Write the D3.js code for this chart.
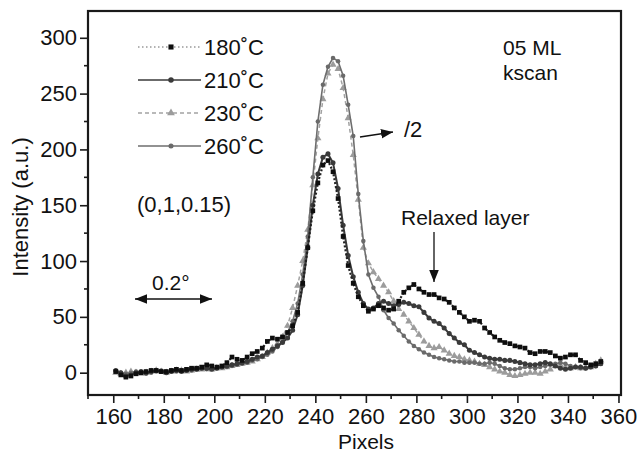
<!DOCTYPE html>
<html><head><meta charset="utf-8">
<script src="https://cdn.jsdelivr.net/npm/d3@7"></script>
<style>body{margin:0;background:#fff}svg{display:block}text{font-family:"Liberation Sans",Arial,sans-serif;fill:#111}</style>
</head><body><svg id="c" width="641" height="453"></svg>
<script>
// x positions (pixels) shared by all series
const pixels = d3.range(161, 354, 2);
const xTicks = [160,180,200,220,240,260,280,300,320,340,360];
const yTicks = [0,50,100,150,200,250,300];
// 180 C
const s180 = [1,-2,-4,-3,-1,0,1,2,2,1,
  1,2,3,2,3,4,4,5,7,6,
  5,6,9,14,12,11,14,17,19,22,
  28,31,30,32,36,42,54,80,112,145,
  170,186,190,180,156,122,96,80,68,60,
  55,57,60,58,56,57,64,72,76,79,
  75,72,70,70,67,66,63,58,54,50,
  46,47,46,40,36,32,29,27,26,24,
  23,22,18,17,19,19,18,15,13,14,
  16,16,11,9,7,8,10];
// 210 C
const s210 = [2,0,-3,-2,0,1,0,1,2,1,
  0,1,2,1,2,3,3,4,4,3,
  4,5,6,7,8,9,10,12,14,15,
  18,21,24,27,31,38,52,78,112,150,
  178,193,196,188,165,132,105,86,72,62,
  57,58,62,64,62,60,61,63,62,60,
  59,54,49,46,44,40,35,31,27,25,
  20,18,16,14,13,12,12,11,11,10,
  9,8,7,7,8,9,8,6,4,3,
  4,5,5,4,5,6,8];
// 230 C (shown divided by 2)
const s230 = [0,-1,0,1,0,-1,0,1,2,1,
  0,1,2,2,1,2,3,3,4,3,
  4,4,5,6,7,8,9,10,12,14,
  18,22,26,32,42,58,78,100,128,168,
  210,245,268,276,272,255,228,195,155,112,
  98,90,84,78,72,64,57,52,46,40,
  34,28,24,22,23,20,17,15,14,12,
  11,10,8,7,5,3,1,0,-2,-3,
  -2,-1,0,0,-1,1,3,6,7,5,
  4,5,4,5,5,8,11];
// 260 C (shown divided by 2)
const s260 = [1,0,-1,0,1,0,-1,0,1,2,
  1,2,1,2,3,2,3,4,3,4,
  4,5,5,6,7,8,9,11,12,14,
  16,19,23,28,36,46,62,88,122,175,
  225,258,274,282,279,266,240,212,160,118,
  88,76,68,56,49,44,38,33,28,24,
  21,18,16,14,13,12,11,10,10,9,
  9,9,8,8,9,8,6,4,3,3,
  4,5,5,4,5,6,7,8,9,8,
  6,5,4,4,5,6,8];
const names = ["180\u02DAC","210\u02DAC","230\u02DAC","260\u02DAC"];

const svg = d3.select("#c");
const m = {l:88, r:621, t:11, b:395};
const x = d3.scaleLinear().domain([150, 361]).range([m.l, m.r]);
const y = d3.scaleLinear().domain([-20, 324]).range([m.b, m.t]);

const series = [
  {name:names[0], vals:s180, color:"#0e0e0e", line:"#222", dash:"2,2", lw:2.2, sym:d3.symbolSquare, size:22, order:3},
  {name:names[1], vals:s210, color:"#3a3a3a", line:"#3a3a3a", dash:null, lw:2, sym:d3.symbolCircle, size:20, order:2},
  {name:names[2], vals:s230, color:"#9c9c9c", line:"#a2a2a2", dash:"4,3", lw:1.5, sym:d3.symbolTriangle, size:22, order:0},
  {name:names[3], vals:s260, color:"#6a6a6a", line:"#6e6e6e", dash:null, lw:1.6, sym:d3.symbolCircle, size:16, order:1}
];

const g = svg.append("g");
const line = d3.line().x((d,i)=>x(pixels[i])).y(d=>y(d));
series.slice().sort((a,b)=>a.order-b.order).forEach(s=>{
  g.append("path").datum(s.vals).attr("d",line).attr("fill","none")
   .attr("stroke",s.line).attr("stroke-width",s.lw).attr("stroke-dasharray",s.dash);
  g.selectAll(null).data(s.vals).enter().append("path")
   .attr("d",d3.symbol().type(s.sym).size(s.size))
   .attr("transform",(d,i)=>`translate(${x(pixels[i])},${y(d)})`)
   .attr("fill",s.color);
});

// frame
svg.append("rect").attr("x",m.l).attr("y",m.t).attr("width",m.r-m.l).attr("height",m.b-m.t)
  .attr("fill","none").attr("stroke","#1a1a1a").attr("stroke-width",2.2);

// axes
const xa = svg.append("g").attr("transform",`translate(0,${m.b})`)
  .call(d3.axisBottom(x).tickValues(xTicks).tickSize(8).tickPadding(5).tickFormat(d3.format("d")));
const ya = svg.append("g").attr("transform",`translate(${m.l},0)`)
  .call(d3.axisLeft(y).tickValues(yTicks).tickSize(8).tickPadding(3).tickFormat(d3.format("d")));
[xa,ya].forEach(a=>{a.select(".domain").remove();a.selectAll("line").attr("stroke","#1a1a1a").attr("stroke-width",1.6);
  a.selectAll("text").style("font-size","22px").attr("fill","#111");});
// minor ticks
svg.append("g").selectAll("line").data(d3.range(150,361,10).filter(v=>!xTicks.includes(v))).enter().append("line")
  .attr("x1",d=>x(d)).attr("x2",d=>x(d)).attr("y1",m.b).attr("y2",m.b+4).attr("stroke","#1a1a1a").attr("stroke-width",1.6);
svg.append("g").selectAll("line").data(d3.range(-25,325,25).filter(v=>!yTicks.includes(v)&&v>-20)).enter().append("line")
  .attr("x1",m.l-4).attr("x2",m.l).attr("y1",d=>y(d)).attr("y2",d=>y(d)).attr("stroke","#1a1a1a").attr("stroke-width",1.6);

svg.append("text").attr("x",366).attr("y",449).attr("text-anchor","middle").style("font-size","21px").text("Pixels");
svg.append("text").attr("transform","translate(28,207) rotate(-90)").attr("text-anchor","middle").style("font-size","22px").text("Intensity (a.u.)");

// legend
const ly = [47,80,113,146];
series.forEach((s,i)=>{
  const lg = svg.append("g");
  lg.append("line").attr("x1",138).attr("x2",201).attr("y1",ly[i]).attr("y2",ly[i])
    .attr("stroke", i===0?"#999":s.line).attr("stroke-width",i===0?1.5:1.3).attr("stroke-dasharray", i===0?"1.5,2.5":s.dash);
  lg.append("path").attr("d",d3.symbol().type(s.sym).size(s.size+4)).attr("transform",`translate(171,${ly[i]})`).attr("fill",s.color);
  lg.append("text").attr("x",204).attr("y",ly[i]+8).style("font-size","22px").text(s.name);
});

// annotations
svg.append("text").attr("x",137).attr("y",212).style("font-size","22px").text("(0,1,0.15)");
svg.append("text").attr("x",503).attr("y",55).style("font-size","21px").text("05 ML");
svg.append("text").attr("x",503).attr("y",80).style("font-size","21px").text("kscan");
svg.append("text").attr("x",404).attr("y",137).style("font-size","22px").text("/2");
svg.append("text").attr("x",401).attr("y",225).style("font-size","21px").text("Relaxed layer");
svg.append("text").attr("x",152).attr("y",290).style("font-size","21px").text("0.2\u00B0");

const defs = svg.append("defs");
defs.append("marker").attr("id","ah").attr("viewBox","0 0 10 10").attr("refX",10).attr("refY",5)
  .attr("markerWidth",12).attr("markerHeight",12).attr("markerUnits","userSpaceOnUse").attr("orient","auto-start-reverse")
  .append("path").attr("d","M0,1 L10,5 L0,9 Z").attr("fill","#111");
svg.append("line").attr("x1",360).attr("y1",137).attr("x2",393).attr("y2",132).attr("stroke","#111").attr("stroke-width",1.3).attr("marker-end","url(#ah)");
svg.append("line").attr("x1",434).attr("y1",232).attr("x2",434).attr("y2",282).attr("stroke","#111").attr("stroke-width",1.3).attr("marker-end","url(#ah)");
svg.append("line").attr("x1",135).attr("y1",299).attr("x2",212).attr("y2",299).attr("stroke","#111").attr("stroke-width",1.3)
  .attr("marker-end","url(#ah)").attr("marker-start","url(#ah)");
</script></body></html>
